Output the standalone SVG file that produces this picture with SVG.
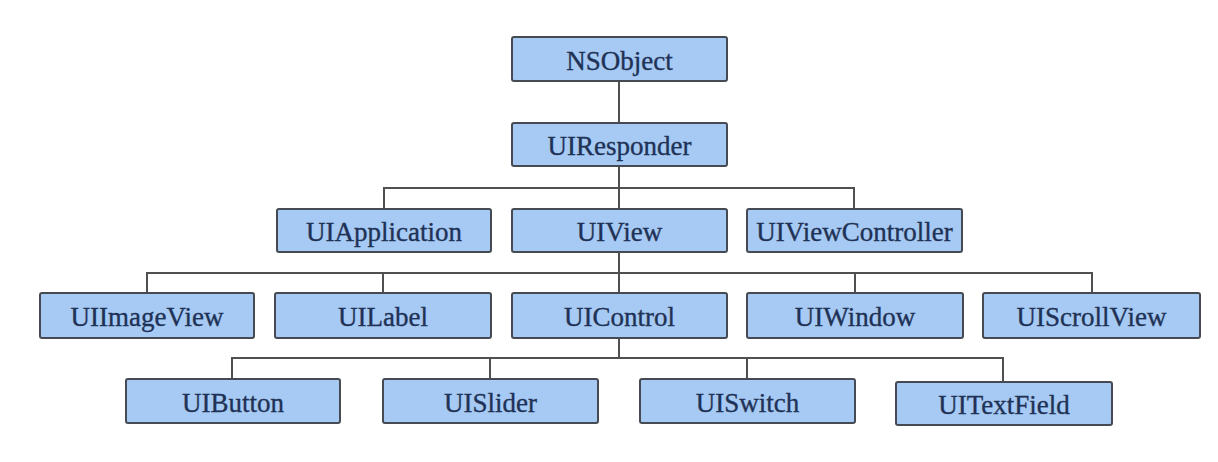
<svg xmlns="http://www.w3.org/2000/svg" width="1218" height="462" viewBox="0 0 1218 462">
<style>
.box{fill:#a6caf3;stroke:#464b53;stroke-width:2}
.lbl{font-family:"Liberation Serif","Times New Roman",serif;font-size:27px;fill:#1f3256;stroke:#1f3256;stroke-width:0.35;text-anchor:middle}
.ln{fill:none;stroke:#505050;stroke-width:2}
</style>
<rect width="1218" height="462" fill="#ffffff"/>
<g id="connectors">
<path class="ln" d="M619,81 V123"/>
<path class="ln" d="M619,166 V209 M384,209 V188 H854 V209"/>
<path class="ln" d="M619,252 V293 M147,293 V273 H1092 V293 M383,273 V293 M855,273 V293"/>
<path class="ln" d="M619,338 V358 M232,379 V358 H1003 V382 M490,358 V379 M747,358 V379"/>
</g>
<g id="NSObject"><rect class="box" x="512" y="37" width="215" height="44" rx="2"/><text class="lbl" x="619.5" y="69.5">NSObject</text></g>
<g id="UIResponder"><rect class="box" x="512" y="123" width="215" height="43" rx="2"/><text class="lbl" x="619.5" y="155">UIResponder</text></g>
<g id="UIApplication"><rect class="box" x="277" y="209" width="214" height="43" rx="2"/><text class="lbl" x="384" y="241">UIApplication</text></g>
<g id="UIView"><rect class="box" x="512" y="209" width="215" height="43" rx="2"/><text class="lbl" x="619.5" y="241">UIView</text></g>
<g id="UIViewController"><rect class="box" x="747" y="209" width="215" height="43" rx="2"/><text class="lbl" x="854.5" y="241">UIViewController</text></g>
<g id="UIImageView"><rect class="box" x="40" y="293" width="214" height="45" rx="2"/><text class="lbl" x="147" y="326">UIImageView</text></g>
<g id="UILabel"><rect class="box" x="275" y="293" width="216" height="45" rx="2"/><text class="lbl" x="383" y="326">UILabel</text></g>
<g id="UIControl"><rect class="box" x="512" y="293" width="215" height="45" rx="2"/><text class="lbl" x="619.5" y="326">UIControl</text></g>
<g id="UIWindow"><rect class="box" x="747" y="293" width="216" height="45" rx="2"/><text class="lbl" x="855" y="326">UIWindow</text></g>
<g id="UIScrollView"><rect class="box" x="983" y="293" width="217" height="45" rx="2"/><text class="lbl" x="1091.5" y="326">UIScrollView</text></g>
<g id="UIButton"><rect class="box" x="126" y="379" width="214" height="44" rx="2"/><text class="lbl" x="233" y="411.5">UIButton</text></g>
<g id="UISlider"><rect class="box" x="383" y="379" width="215" height="44" rx="2"/><text class="lbl" x="490.5" y="411.5">UISlider</text></g>
<g id="UISwitch"><rect class="box" x="640" y="379" width="215" height="44" rx="2"/><text class="lbl" x="747.5" y="411.5">UISwitch</text></g>
<g id="UITextField"><rect class="box" x="896" y="382" width="216" height="43" rx="2"/><text class="lbl" x="1004" y="413.5">UITextField</text></g>
</svg>
